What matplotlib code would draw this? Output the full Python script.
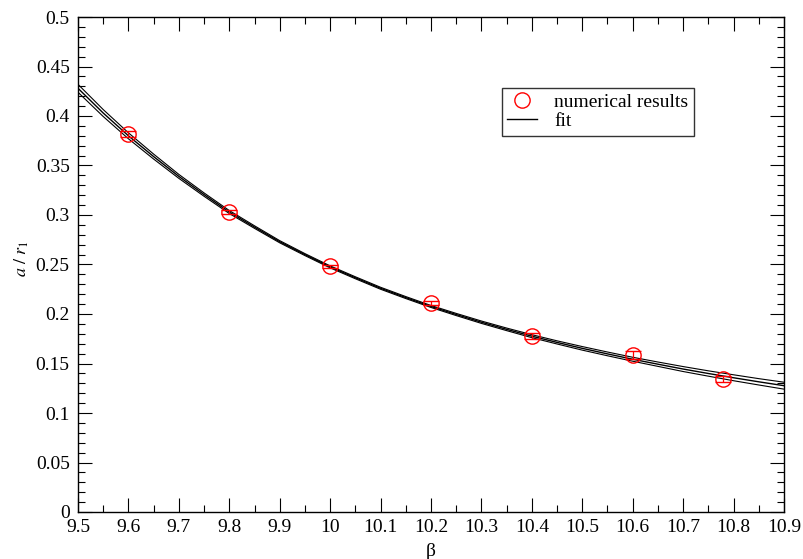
import matplotlib
matplotlib.use("Agg")
import matplotlib.pyplot as plt
from matplotlib.lines import Line2D
from matplotlib.ticker import MultipleLocator

plt.rcParams['font.family'] = ['Liberation Serif', 'DejaVu Serif']
plt.rcParams['mathtext.fontset'] = 'stix'

# numerical results
beta = [9.6, 9.8, 10.0, 10.2, 10.4, 10.6, 10.78]
a_r1 = [0.382, 0.303, 0.248, 0.211, 0.178, 0.159, 0.134]
a_r1_err = [0.003, 0.002, 0.002, 0.002, 0.003, 0.004, 0.003]

fit_beta = [9.5, 9.55, 9.6, 9.65, 9.7, 9.75, 9.8, 9.85, 9.9, 9.95,
            10.0, 10.05, 10.1, 10.15, 10.2, 10.25, 10.3, 10.35, 10.4, 10.45,
            10.5, 10.55, 10.6, 10.65, 10.7, 10.75, 10.8, 10.85, 10.9]
fit_mid = [0.428, 0.403, 0.380, 0.359, 0.339, 0.3206, 0.303, 0.2878, 0.273, 0.260,
           0.2476, 0.2366, 0.226, 0.2166, 0.2076, 0.1995, 0.1917, 0.1845, 0.1776, 0.1713,
           0.1653, 0.1597, 0.1543, 0.1493, 0.1444, 0.1399, 0.1356, 0.1315, 0.1276]
fit_up = [0.432, 0.4065, 0.383, 0.3615, 0.341, 0.3223, 0.3045, 0.2891, 0.2741, 0.261,
          0.2486, 0.2376, 0.227, 0.2176, 0.2086, 0.2006, 0.1929, 0.1858, 0.1791, 0.1729,
          0.1671, 0.1616, 0.1563, 0.1515, 0.1469, 0.1426, 0.1386, 0.1347, 0.1311]
fit_lo = [0.424, 0.3995, 0.377, 0.3565, 0.337, 0.3189, 0.3015, 0.2865, 0.2719, 0.259,
          0.2466, 0.2356, 0.225, 0.2156, 0.2066, 0.1984, 0.1905, 0.1832, 0.1761, 0.1697,
          0.1635, 0.1578, 0.1523, 0.1471, 0.1419, 0.1372, 0.1326, 0.1283, 0.1241]

fig = plt.figure(figsize=(8.04, 5.59), dpi=100)
ax = fig.add_axes([78/804, 1-512/559, 706/804, 495/559])

ax.plot(fit_beta, fit_mid, color='black', lw=1.0)
ax.plot(fit_beta, fit_up, color='black', lw=0.8)
ax.plot(fit_beta, fit_lo, color='black', lw=0.8)
ax.errorbar(beta, a_r1, yerr=a_r1_err, fmt='o', mfc='none', mec='red', ms=11,
            mew=1.0, ecolor='red', elinewidth=0.9, capsize=6, capthick=0.9)

ax.set_xlim(9.5, 10.9)
ax.set_ylim(0, 0.5)
ax.xaxis.set_major_locator(MultipleLocator(0.1))
ax.xaxis.set_minor_locator(MultipleLocator(0.05))
ax.yaxis.set_major_locator(MultipleLocator(0.05))
ax.yaxis.set_minor_locator(MultipleLocator(0.01))
ax.set_xticklabels([f'{v:g}' for v in ax.get_xticks()])
ax.set_yticklabels([f'{v:g}' for v in ax.get_yticks()])
ax.tick_params(which='both', direction='in', top=True, right=True, labelsize=14, width=0.8)
ax.tick_params(which='major', length=10)
ax.tick_params(which='minor', length=5)
ax.tick_params(axis='x', pad=5)
ax.tick_params(axis='y', pad=6)
for s in ax.spines.values():
    s.set_linewidth(1.0)

ax.set_xlabel('β', fontsize=14, labelpad=5)
ax.set_ylabel(r'$a\ /\ r_1$', fontsize=13)
ax.yaxis.set_label_coords(-0.066, 0.511)

handles = [Line2D([], [], ls='none', marker='o', mfc='none', mec='red', ms=11, mew=1.0),
           Line2D([], [], color='black', lw=1.0)]
leg = ax.legend(handles, ['numerical results', 'fit'], loc='upper left',
                bbox_to_anchor=(0.60, 0.857), fontsize=14, frameon=True, fancybox=False,
                edgecolor='black', borderpad=0.3, handlelength=1.5, handletextpad=0.9,
                labelspacing=0.05, borderaxespad=0)
leg.get_frame().set_linewidth(1.0)

fig.savefig('out.png', dpi=100)
